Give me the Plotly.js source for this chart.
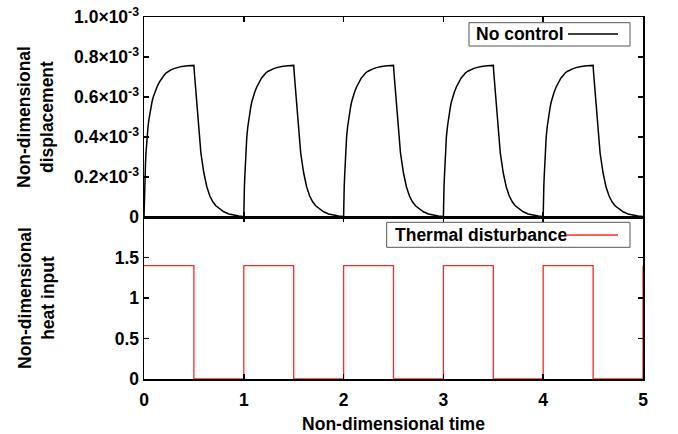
<!DOCTYPE html>
<html>
<head>
<meta charset="utf-8">
<script src="https://cdn.plot.ly/plotly-3.0.1.min.js"></script>
<style>html,body{margin:0;padding:0;background:#fff;}#chart{width:678px;height:434px;}</style>
</head>
<body>
<div id="chart"></div>
<script>
// ---- data ----
// start time of each heating cycle (non-dimensional time)
var periodStarts = [0, 1, 2, 3, 4];
// displacement within one cycle (units of 1e-3), rising while heated
var risePhase = [0, 0.003, 0.006, 0.01, 0.015, 0.02, 0.03, 0.04, 0.05, 0.06, 0.07, 0.08, 0.093, 0.11, 0.13, 0.155, 0.178, 0.2, 0.22, 0.245, 0.27, 0.3, 0.33, 0.38, 0.44, 0.5];
var riseDisp  = [0, 0.09, 0.15, 0.2, 0.27, 0.32, 0.4, 0.45, 0.49, 0.525, 0.55, 0.575, 0.6, 0.625, 0.65, 0.675, 0.695, 0.708, 0.72, 0.729, 0.736, 0.742, 0.747, 0.753, 0.756, 0.758];
// decaying after heat is switched off
var decayPhase = [0.505, 0.51, 0.515, 0.52, 0.53, 0.54, 0.55, 0.57, 0.6, 0.63, 0.66, 0.69, 0.72, 0.75, 0.8, 0.85, 0.9, 0.95, 1.0];
var decayDisp  = [0.72, 0.69, 0.655, 0.62, 0.55, 0.48, 0.42, 0.32, 0.22, 0.15, 0.105, 0.076, 0.056, 0.043, 0.026, 0.015, 0.009, 0.005, 0.002];

// thermal disturbance (square wave, step after each point)
var heatTime  = [0, 0.5, 1, 1.5, 2, 2.5, 3, 3.5, 4, 4.5, 5];
var heatValue = [1.4, 0, 1.4, 0, 1.4, 0, 1.4, 0, 1.4, 0, 1.4];

// tick labels
var dispTickVals = [0, 0.2, 0.4, 0.6, 0.8, 1.0];
var dispTickText = ['0', '0.2×10<sup>-3</sup>', '0.4×10<sup>-3</sup>', '0.6×10<sup>-3</sup>', '0.8×10<sup>-3</sup>', '1.0×10<sup>-3</sup>'];
var heatTickVals = [0, 0.5, 1, 1.5];
var heatTickText = ['0', '0.5', '1', '1.5'];
var timeTickVals = [0, 1, 2, 3, 4, 5];

// ---- build series ----
var dispT = [], dispY = [];
periodStarts.forEach(function (p) {
  risePhase.forEach(function (t, i) { dispT.push(p + t); dispY.push(riseDisp[i]); });
  decayPhase.forEach(function (t, i) { dispT.push(p + t); dispY.push(decayDisp[i]); });
});

var FONT = 'Liberation Sans, Arial, sans-serif';
var FS = 17.5;
var F = {family: FONT, size: FS, color: '#000', weight: 'bold'};

var traces = [
  {x: dispT, y: dispY, xaxis: 'x2', yaxis: 'y2', mode: 'lines', name: 'No control',
   line: {color: '#000', width: 1.5}, showlegend: false},
  {x: heatTime, y: heatValue, xaxis: 'x', yaxis: 'y', mode: 'lines', name: 'Thermal disturbance',
   line: {color: 'rgb(255,40,40)', width: 1.3, shape: 'hv'}, showlegend: false}
];

var axCommon = {showline: true, linecolor: '#000', linewidth: 1.5, mirror: 'ticks', ticks: 'inside',
  ticklen: 5, tickwidth: 1.5, tickcolor: '#000', showgrid: false, zeroline: false,
  tickfont: F};

function ax(extra) { return Object.assign({}, axCommon, extra); }

var H = 362, W = 499, L = 144, B = 379;
function px(x) { return (x - L) / W; }
function py(y) { return (B - y) / H; }

var layout = {
  width: 678, height: 434,
  margin: {l: 144, r: 35, t: 17, b: 55},
  paper_bgcolor: '#fff', plot_bgcolor: '#fff',
  showlegend: false,
  font: F,
  xaxis: ax({domain: [0, 1], range: [0, 5], tickvals: timeTickVals, anchor: 'y', ticklabelstandoff: 4,
    automargin: false, title: {text: 'Non-dimensional time', font: F, standoff: 13}}),
  yaxis: ax({domain: [0, 162 / 362], range: [0, 2], tickvals: heatTickVals, ticktext: heatTickText, anchor: 'x'}),
  xaxis2: ax({domain: [0, 1], range: [0, 5], tickvals: timeTickVals, showticklabels: false, anchor: 'y2'}),
  yaxis2: ax({domain: [162 / 362, 1], range: [0, 1], tickvals: dispTickVals, ticktext: dispTickText, anchor: 'x2'}),
  annotations: [
    {xref: 'paper', yref: 'paper', x: px(36), y: py(117), xanchor: 'center', yanchor: 'middle', textangle: -90,
     showarrow: false, text: 'Non-dimensional<br>displacement', font: F},
    {xref: 'paper', yref: 'paper', x: px(36), y: py(298), xanchor: 'center', yanchor: 'middle', textangle: -90,
     showarrow: false, text: 'Non-dimensional<br>heat input', font: F},
    {xref: 'paper', yref: 'paper', x: px(566), y: py(34), xanchor: 'right', yanchor: 'middle',
     showarrow: false, text: 'No control', font: F},
    {xref: 'paper', yref: 'paper', x: px(569), y: py(235), xanchor: 'right', yanchor: 'middle',
     showarrow: false, text: 'Thermal disturbance', font: F}
  ],
  shapes: [
    {type: 'rect', xref: 'paper', yref: 'paper', x0: px(469), x1: px(630), y0: py(46), y1: py(22.7),
     line: {color: '#555', width: 1}, fillcolor: 'rgba(255,255,255,0)'},
    {type: 'line', xref: 'paper', yref: 'paper', x0: px(568), x1: px(618), y0: py(34), y1: py(34),
     line: {color: '#000', width: 1.5}},
    {type: 'rect', xref: 'paper', yref: 'paper', x0: px(386.7), x1: px(630), y0: py(247.3), y1: py(222.3),
     line: {color: '#555', width: 1}, fillcolor: 'rgba(255,255,255,0)'},
    {type: 'line', xref: 'paper', yref: 'paper', x0: px(567), x1: px(618), y0: py(235), y1: py(235),
     line: {color: 'rgb(255,40,40)', width: 1.3}}
  ]
};

Plotly.newPlot('chart', traces, layout, {displayModeBar: false, staticPlot: true});
</script>
</body>
</html>
